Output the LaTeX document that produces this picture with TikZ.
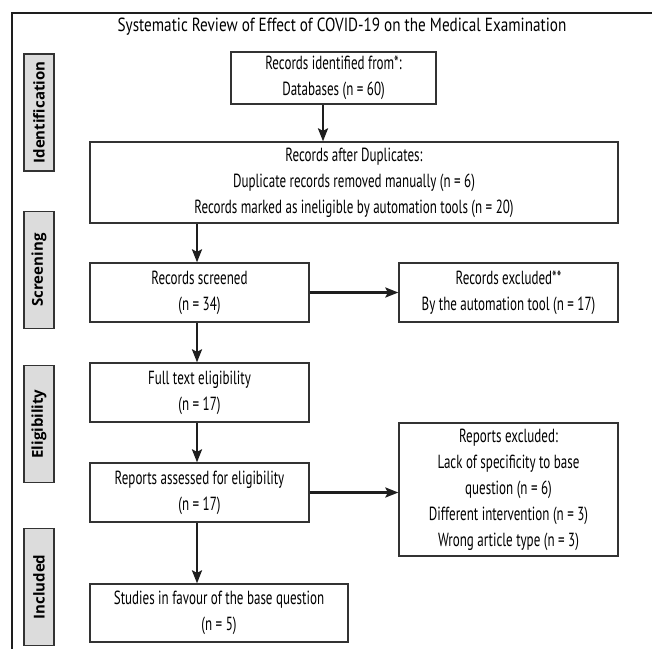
\documentclass[tikz,border=0pt]{standalone}
\usepackage{fontspec}
\setmainfont{PT Sans}[FakeStretch=0.685]
\newfontfamily\titlefont{PT Sans}[FakeStretch=0.8]
\newfontfamily\stagefont{Open Sans}
\usetikzlibrary{arrows.meta}
\definecolor{framec}{HTML}{1E1E1E}
\definecolor{boxc}{HTML}{333333}
\definecolor{stagefill}{HTML}{DCDCDC}
\tikzset{
  box/.style={draw=boxc, line width=1.3pt, fill=white, inner sep=0pt, align=center,
    font=\fontsize{19}{26}\selectfont},
  stagebox/.style={draw=boxc, line width=1.2pt, fill=stagefill, rotate=90, inner sep=0pt,
    minimum width=117pt, minimum height=30pt, font=\stagefont\bfseries\fontsize{15}{16}\selectfont},
  flow/.style={draw=framec, line width=2.4pt, -{Stealth[length=13pt,width=10pt,inset=2.5pt]}},
}
\begin{document}
\begin{tikzpicture}[x=1pt,y=-1pt]
\useasboundingbox (0,0) rectangle (652,648);
\draw[framec, line width=2pt] (12,650) -- (12,13) -- (652,13);
\node[font=\titlefont\fontsize{19}{20}\selectfont] (title) at (342,27) {Systematic Review of Effect of COVID-19 on the Medical Examination};

\node[stagebox] (s1) at (39,112.5) {Identification};
\node[stagebox] (s2) at (39,270) {Screening};
\node[stagebox] (s3) at (39,424) {Eligibility};
\node[stagebox] (s4) at (39,587) {Included};

\node[box, minimum width=205pt, minimum height=52pt] (b1) at (333.5,78) {Records identified from*:\\Databases (n = 60)};
\node[box, minimum width=528pt, minimum height=81pt] (b2) at (354,182.5) {Records after Duplicates:\\Duplicate records removed manually (n = 6)\\Records marked as ineligible by automation tools (n = 20)};
\node[box, minimum width=219pt, minimum height=59pt] (b3) at (199.5,292.5) {Records screened\\(n = 34)};
\node[box, minimum width=219pt, minimum height=59pt] (b4) at (508.5,292.5) {Records excluded**\\By the automation tool (n = 17)};
\node[box, minimum width=219pt, minimum height=59pt] (b5) at (199.5,392.5) {Full text eligibility\\(n = 17)};
\node[box, minimum width=219pt, minimum height=59pt] (b6) at (199.5,492.5) {Reports assessed for eligibility\\(n = 17)};
\node[box, minimum width=219pt, minimum height=133pt] (b7) at (508.5,489.5) {Reports excluded:\\Lack of specificity to base\\question (n = 6)\\Different intervention (n = 3)\\Wrong article type (n = 3)};
\node[box, minimum width=258pt, minimum height=58pt] (b8) at (219,613) {Studies in favour of the base question\\(n = 5)};

\coordinate (ax1) at (323,0);
\coordinate (ax2) at (197,0);
\draw[flow] (b1.south -| ax1) -- (b2.north -| ax1);
\draw[flow] (b2.south -| ax2) -- (b3.north -| ax2);
\draw[flow] (b3.east) -- (b4.west);
\draw[flow] (b3.south -| ax2) -- (b5.north -| ax2);
\draw[flow] (b5.south -| ax2) -- (b6.north -| ax2);
\draw[flow] (b6.east) -- (b6.east -| b7.west);
\draw[flow] (b6.south -| ax2) -- (b8.north -| ax2);
\end{tikzpicture}
\end{document}
